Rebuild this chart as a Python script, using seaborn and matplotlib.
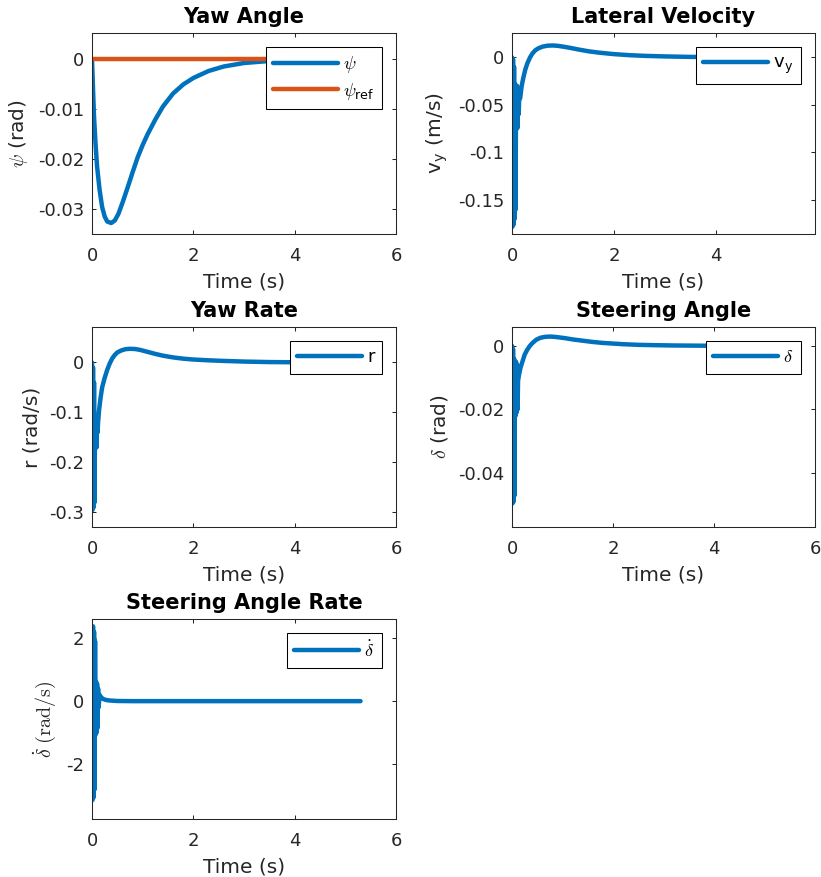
import matplotlib
matplotlib.use("Agg")
import matplotlib.pyplot as plt
import seaborn as sns
from matplotlib.ticker import FixedLocator, FuncFormatter

# ---- simulated closed-loop response (time in s) ----
t_psi = [0.0, 0.02, 0.04, 0.07, 0.1, 0.15, 0.2, 0.25, 0.3, 0.38, 0.45, 0.52,
         0.6, 0.7, 0.8, 0.9, 1.0, 1.1, 1.25, 1.4, 1.6, 1.8, 2.0, 2.3, 2.6,
         3.0, 3.5, 4.0, 4.5, 5.3]
psi = [0.0, -0.006, -0.0115, -0.017, -0.0215, -0.0262, -0.0296, -0.0315,
       -0.0325, -0.0328, -0.0323, -0.031, -0.0288, -0.0258, -0.0227, -0.0197,
       -0.0172, -0.015, -0.0121, -0.0095, -0.0069, -0.0051, -0.0038, -0.0024,
       -0.0015, -0.0008, -0.0004, -0.0002, -0.0001, 0.0]

t_ref = [0.0, 5.3]
psi_ref = [0.0, 0.0]

t_vy = [0.0, 0.01, 0.02, 0.03, 0.04, 0.05, 0.06, 0.07, 0.08, 0.09, 0.1, 0.11,
        0.12, 0.13, 0.14, 0.16, 0.19, 0.22, 0.26, 0.3, 0.35, 0.4, 0.46, 0.52,
        0.6, 0.7, 0.8, 0.9, 1.0, 1.15, 1.3, 1.5, 1.7, 2.0, 2.3, 2.6, 3.0, 3.5,
        4.0, 4.5, 5.3]
vy = [0.0, -0.178, -0.002, -0.176, -0.01, -0.17, -0.028, -0.16, -0.03, -0.075,
      -0.03, -0.074, -0.033, -0.06, -0.045, -0.043, -0.03, -0.022, -0.013,
      -0.0065, -0.0005, 0.004, 0.0075, 0.0095, 0.0112, 0.0122, 0.0124, 0.012,
      0.0112, 0.0098, 0.0082, 0.0063, 0.0049, 0.0033, 0.0022, 0.0015, 0.0009,
      0.0004, 0.0002, 0.0001, 0.0]

t_r = [0.0, 0.01, 0.02, 0.03, 0.04, 0.05, 0.06, 0.07, 0.08, 0.09, 0.1, 0.11,
       0.12, 0.14, 0.17, 0.2, 0.25, 0.3, 0.35, 0.4, 0.45, 0.5, 0.58, 0.66,
       0.75, 0.85, 0.95, 1.1, 1.25, 1.4, 1.6, 1.8, 2.0, 2.3, 2.6, 3.0, 3.5,
       4.0, 4.5, 5.3]
r = [0.0, -0.295, -0.01, -0.29, -0.04, -0.28, -0.12, -0.17, -0.11, -0.17,
     -0.115, -0.14, -0.12, -0.095, -0.07, -0.05, -0.031, -0.015, -0.002,
     0.008, 0.015, 0.02, 0.024, 0.0265, 0.0272, 0.0268, 0.025, 0.021, 0.017,
     0.0135, 0.01, 0.0075, 0.0058, 0.0042, 0.003, 0.0017, 0.0007, 0.0003,
     0.0001, 0.0]

t_delta = [0.0, 0.01, 0.02, 0.03, 0.04, 0.05, 0.06, 0.07, 0.08, 0.09, 0.1,
           0.11, 0.12, 0.14, 0.17, 0.2, 0.25, 0.3, 0.35, 0.4, 0.48, 0.56,
           0.65, 0.75, 0.85, 0.95, 1.05, 1.2, 1.4, 1.6, 1.8, 2.0, 2.2, 2.5,
           2.8, 3.2, 3.6, 4.0, 4.5, 5.3]
delta = [0.0, -0.0495, -0.001, -0.049, -0.004, -0.047, -0.006, -0.022, -0.005,
         -0.021, -0.006, -0.02, -0.011, -0.009, -0.0068, -0.0053, -0.0028,
         -0.0013, -0.0001, 0.0008, 0.0019, 0.0025, 0.0028, 0.0029, 0.0028,
         0.0026, 0.0024, 0.002, 0.0016, 0.0012, 0.0009, 0.0007, 0.0005, 0.0003,
         0.0002, 0.0001, 0.00005, 0.0, 0.0, 0.0]

t_ddot = [0.0, 0.01, 0.02, 0.03, 0.04, 0.05, 0.06, 0.07, 0.08, 0.09, 0.1,
          0.11, 0.12, 0.13, 0.15, 0.18, 0.22, 0.27, 0.35, 0.5, 0.8, 5.3]
delta_dot = [0.0, -3.13, 2.37, -3.05, 2.2, -2.8, 1.9, -1.07, 0.62, -1.0, 0.55,
             -0.85, 0.4, -0.2, 0.2, 0.12, 0.07, 0.04, 0.02, 0.005, 0.0, 0.0]

BLUE = "#0072BD"
ORANGE = "#D95319"
INK = "#262626"

sns.set_theme(style="ticks")
plt.rcParams.update({
    "font.family": ["DejaVu Sans"],
    "mathtext.fontset": "cm",
    "axes.unicode_minus": False,
    "axes.edgecolor": INK,
    "axes.linewidth": 0.75,
    "axes.labelcolor": INK,
    "axes.labelsize": 14.5,
    "axes.titlesize": 15,
    "axes.titleweight": "bold",
    "axes.titlecolor": "black",
    "xtick.direction": "in",
    "ytick.direction": "in",
    "xtick.top": True,
    "ytick.right": True,
    "xtick.color": INK,
    "ytick.color": INK,
    "xtick.labelsize": 13,
    "ytick.labelsize": 13,
    "xtick.major.size": 3,
    "ytick.major.size": 3,
    "xtick.major.width": 0.75,
    "ytick.major.width": 0.75,
    "xtick.major.pad": 9.5,
    "ytick.major.pad": 5.5,
    "legend.fontsize": 13,
})

W, H = 821, 877
fig = plt.figure(figsize=(W / 100, H / 100), dpi=100)


def px_axes(left, top, right, bottom):
    return fig.add_axes([left / W, 1 - bottom / H, (right - left) / W,
                         (bottom - top) / H])


panels = [
    dict(box=(92, 33, 396, 234), title="Yaw Angle", ylabel=r"$\psi$ (rad)",
         series=[(t_psi, psi, BLUE, r"$\psi$"),
                 (t_ref, psi_ref, ORANGE, r"$\psi_{\mathdefault{ref}}$")],
         xlim=(0, 6), ylim=(-0.035, 0.0052), yticks=[-0.03, -0.02, -0.01, 0]),
    dict(box=(512, 33, 815, 234), title="Lateral Velocity",
         ylabel=r"v$_{\mathdefault{y}}$ (m/s)",
         series=[(t_vy, vy, BLUE, r"v$_{\mathdefault{y}}$")],
         xlim=(0, 5.94), ylim=(-0.1856, 0.0255),
         yticks=[-0.15, -0.1, -0.05, 0]),
    dict(box=(92, 327, 396, 527), title="Yaw Rate", ylabel="r (rad/s)",
         series=[(t_r, r, BLUE, "r")],
         xlim=(0, 6), ylim=(-0.329, 0.0708), yticks=[-0.3, -0.2, -0.1, 0]),
    dict(box=(512, 327, 815, 527), title="Steering Angle",
         ylabel=r"$\delta$ (rad)",
         series=[(t_delta, delta, BLUE, r"$\delta$")],
         xlim=(0, 6), ylim=(-0.0569, 0.0059), yticks=[-0.04, -0.02, 0]),
    dict(box=(92, 619, 396, 819), title="Steering Angle Rate",
         ylabel=r"$\dot{\delta}\ (\mathrm{rad/s})$",
         series=[(t_ddot, delta_dot, BLUE, r"$\dot{\delta}$")],
         xlim=(0, 6), ylim=(-3.73, 2.6), yticks=[-2, 0, 2]),
]

fmt = FuncFormatter(lambda v, _: "%g" % round(v, 6))

for p in panels:
    ax = px_axes(*p["box"])
    for tx, ty, col, lab in p["series"]:
        sns.lineplot(x=tx, y=ty, ax=ax, color=col, linewidth=3.2,
                     estimator=None, sort=False, legend=False)
    ax.set_xlim(*p["xlim"])
    ax.set_ylim(*p["ylim"])
    ax.xaxis.set_major_locator(FixedLocator([0, 2, 4, 6]))
    ax.yaxis.set_major_locator(FixedLocator(p["yticks"]))
    ax.xaxis.set_major_formatter(fmt)
    ax.yaxis.set_major_formatter(fmt)
    ax.set_title(p["title"], pad=7)
    ax.set_xlabel("Time (s)", labelpad=5)
    ax.set_ylabel(p["ylabel"], labelpad=6)
    for s in ax.spines.values():
        s.set_visible(True)
    leg = ax.legend(ax.lines, [s[3] for s in p["series"]], loc="upper right",
                    borderaxespad=0.78, handlelength=3.6, handletextpad=0.3,
                    borderpad=0.4, labelspacing=0.3, fancybox=False,
                    framealpha=1, edgecolor="black")
    leg.get_frame().set_linewidth(0.75)
    for txt in leg.get_texts():
        txt.set_color("black")

fig.savefig("out.png", dpi=100)
